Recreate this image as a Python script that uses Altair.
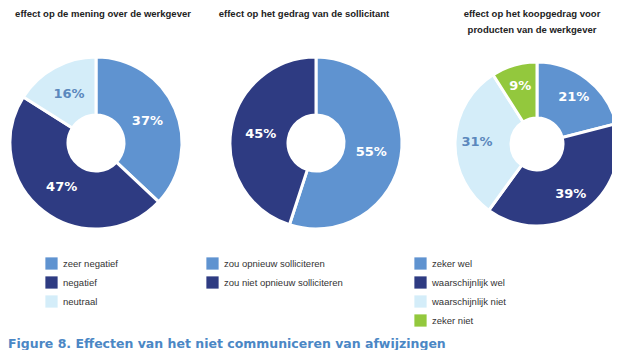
import altair as alt
import pandas as pd

# --- data ---
cats1 = ["zeer negatief", "negatief", "neutraal"]
vals1 = [37, 47, 16]
cats2 = ["zou opnieuw solliciteren", "zou niet opnieuw solliciteren"]
vals2 = [55, 45]
cats3 = ["zeker wel", "waarschijnlijk wel", "waarschijnlijk niet", "zeker niet"]
vals3 = [21, 39, 31, 9]

titles = [["effect op de mening over de werkgever"],
          ["effect op het gedrag van de sollicitant"],
          ["effect op het koopgedrag voor", "producten van de werkgever"]]
caption = "Figure 8. Effecten van het niet communiceren van afwijzingen"

LIGHT = "#5f93d0"
DARK = "#2e3b82"
PALE = "#d4edf9"
GREEN = "#93c83d"
colors1 = [LIGHT, DARK, PALE]
colors2 = [LIGHT, DARK]
colors3 = [LIGHT, DARK, PALE, GREEN]
label_colors1 = ["white", "white", "#5b88bd"]
label_colors2 = ["white", "white"]
label_colors3 = ["white", "white", "#5b88bd", "white"]

FONT = "DejaVu Sans"
SMALL = "Liberation Sans"


def donut(cats, vals, cols, lcols, field, cx, cy, r_out, r_in, legx, legy, r_lab):
    df = pd.DataFrame({field: cats, "v": vals, "o": list(range(len(cats))),
                       "lab": [f"{v}%" for v in vals], "lc": lcols})
    base = alt.Chart(df).encode(
        theta=alt.Theta("v:Q", stack=True),
        order=alt.Order("o:Q"),
        x=alt.value(cx), y=alt.value(cy),
    )
    arcs = base.mark_arc(outerRadius=r_out, innerRadius=r_in, stroke="white",
                         strokeWidth=3).encode(
        color=alt.Color(f"{field}:N", sort=cats,
                        scale=alt.Scale(domain=cats, range=cols),
                        legend=alt.Legend(title=None, orient="none",
                                          legendX=legx, legendY=legy,
                                          symbolType="square", symbolSize=150,
                                          symbolStrokeWidth=0, symbolOpacity=1,
                                          rowPadding=6, padding=0,
                                          labelFont=SMALL, labelFontSize=9.5,
                                          labelColor="#333333", labelOffset=5,
                                          labelLimit=300))
    )
    labels = base.mark_text(radius=r_lab, font=FONT, fontSize=13,
                            fontWeight="bold").encode(
        text="lab:N",
        color=alt.Color("lc:N", scale=None, legend=None),
    )
    return arcs, labels


a1, l1 = donut(cats1, vals1, colors1, label_colors1, "c1", 88, 135, 86, 28, 37, 249, 56)
a2, l2 = donut(cats2, vals2, colors2, label_colors2, "c2", 308, 135, 86, 28, 198, 249, 56)
a3, l3 = donut(cats3, vals3, colors3, label_colors3, "c3", 529, 136, 82, 26, 406, 249, 60)

tdf = pd.DataFrame({"t": titles, "tx": [95, 296, 524]})
title_layer = alt.Chart(tdf).mark_text(font=SMALL, fontSize=9.5, fontWeight="bold",
                                       color="#222222", baseline="top",
                                       lineHeight=16).encode(
    text="t", x=alt.value(0), y=alt.value(1),
    xOffset=alt.XOffset("tx:Q", scale=None),
)
cap_layer = alt.Chart(pd.DataFrame({"c": [caption]})).mark_text(
    font=FONT, fontSize=12.5, fontWeight="bold", color="#4b87c5",
    align="left", baseline="middle").encode(
    text="c:N", x=alt.value(0), y=alt.value(336))

chart = alt.layer(a1, a2, a3, l1, l2, l3, title_layer, cap_layer).resolve_scale(
    color="independent", theta="independent"
).properties(width=604, height=342, padding=0, autosize="none",
             background="white").configure_view(stroke=None)

chart.save("out.html", embed_options={"renderer": "svg", "actions": False})
